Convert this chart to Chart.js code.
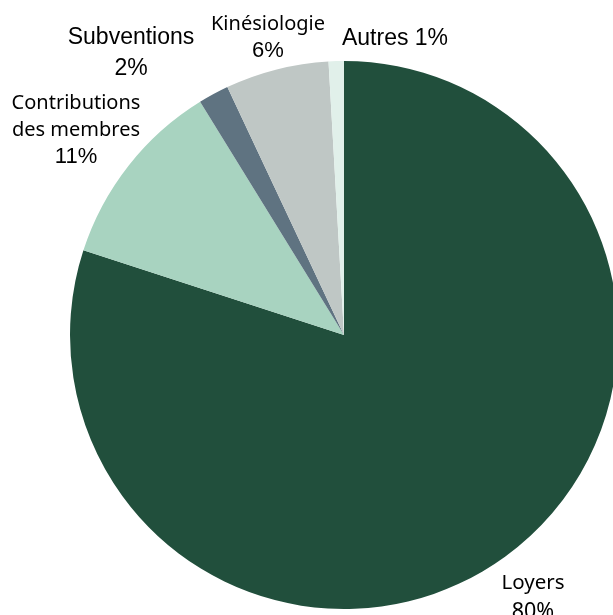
<!DOCTYPE html>
<html>
<head>
<meta charset="utf-8">
<script src="https://cdn.jsdelivr.net/npm/chart.js@4"></script>
<style>
  html, body { margin: 0; padding: 0; background: #ffffff; overflow: hidden; width: 613px; height: 615px; }
  #wrap { position: absolute; left: 0; top: 0; width: 700px; height: 615px; }
</style>
</head>
<body>
<div id="wrap"><canvas id="c" width="700" height="615"></canvas></div>
<script>
const categories = ['Loyers', 'Contributions des membres', 'Subventions', 'Kinésiologie', 'Autres'];
const values = [80.0, 11.2, 1.8, 6.1, 0.9];
const percentLabels = ['80%', '11%', '2%', '6%', '1%'];
const colors = ['#214f3c', '#a8d3c0', '#5f7381', '#bfc7c5', '#e1f0ea'];

// label layout: lines of text, offset from pie center (dx, dy of first baseline), font
const SANS = '"Liberation Sans", Arial, sans-serif';
const ROUND = '"Noto Sans", sans-serif';
const labelLayout = [
  { lines: [['Loyers', ROUND, 20.5], ['80%', ROUND, 21.5]], dx: 189, dy: 254, lh: 29 },
  { lines: [['Contributions', ROUND, 20], ['des membres', ROUND, 20], ['11%', SANS, 22]], dx: -268, dy: -226, lh: 27 },
  { lines: [['Subventions', SANS, 23], ['2%', SANS, 23]], dx: -213, dy: -291, lh: 31 },
  { lines: [['Kinésiologie', ROUND, 20], ['6%', SANS, 22]], dx: -76, dy: -305, lh: 27 },
  { lines: [['Autres 1%', SANS, 23]], dx: 51, dy: -290, lh: 27 }
];

const labelPlugin = {
  id: 'outsideLabels',
  afterDraw(chart) {
    const meta = chart.getDatasetMeta(0);
    const arc = meta.data[0];
    const cx = arc.x, cy = arc.y;
    const ctx = chart.ctx;
    ctx.save();
    ctx.fillStyle = '#000000';
    ctx.textAlign = 'center';
    ctx.textBaseline = 'alphabetic';
    labelLayout.forEach((lab) => {
      lab.lines.forEach((ln, j) => {
        ctx.font = ln[2] + 'px ' + ln[1];
        ctx.fillText(ln[0], cx + lab.dx, cy + lab.dy + j * lab.lh);
      });
    });
    ctx.restore();
  }
};

new Chart(document.getElementById('c'), {
  type: 'pie',
  data: {
    labels: categories,
    datasets: [{
      data: values,
      backgroundColor: colors,
      borderWidth: 0
    }]
  },
  options: {
    responsive: false,
    animation: false,
    layout: { padding: { left: 70, right: 82, top: 61, bottom: 6 } },
    plugins: { legend: { display: false }, tooltip: { enabled: false } }
  },
  plugins: [labelPlugin]
});
</script>
</body>
</html>
